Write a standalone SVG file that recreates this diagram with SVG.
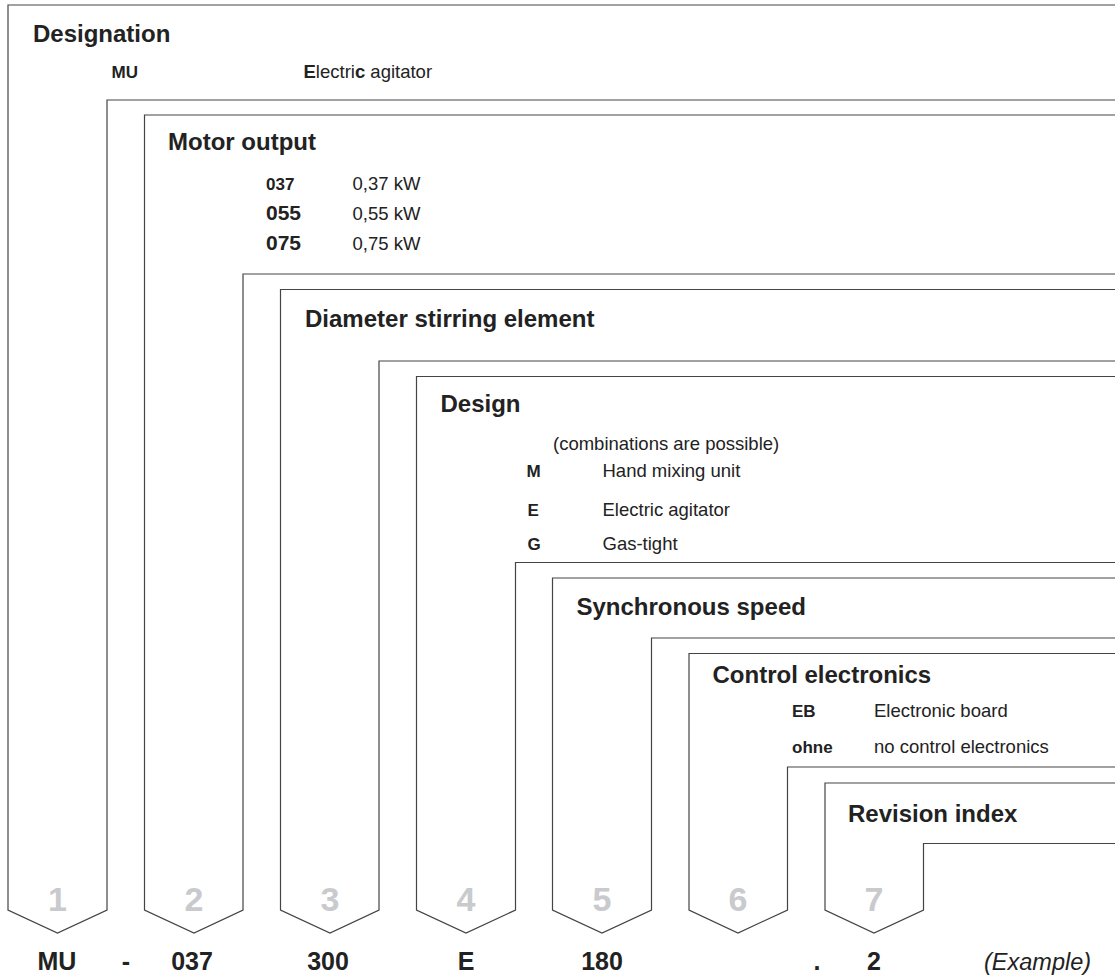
<svg xmlns="http://www.w3.org/2000/svg" width="1115" height="979" viewBox="0 0 1115 979">
<style>
.frame{fill:none;stroke:#444;stroke-width:1.2;stroke-linejoin:miter}
text{font-family:"Liberation Sans",Arial,sans-serif;fill:#222}
.title{font-size:24px;font-weight:bold}
.body{font-size:18.5px}
.code{font-size:17px;font-weight:bold}
.code2{font-size:21px;font-weight:bold}
.num{font-size:34px;font-weight:bold;fill:#c9cacd;text-anchor:middle}
.ex{font-size:25px;font-weight:bold;text-anchor:middle}
.b{font-weight:bold}
</style>
<rect width="1115" height="979" fill="#ffffff"/>
<g id="field1">
<path class="frame" d="M1116,5 H8 V910 L57.5,933 L107,910 V100 H1116"/>
<text class="title" x="33" y="42">Designation</text>
<text class="code" x="111.5" y="78">MU</text>
<text class="body" x="303.5" y="78"><tspan class="b">E</tspan>lectri<tspan class="b">c</tspan> agitator</text>
<text class="num" x="57.5" y="911">1</text>
</g>
<g id="field2">
<path class="frame" d="M1116,115 H144.5 V910 L194,933 L243,910 V274 H1116"/>
<text class="title" x="168" y="150">Motor output</text>
<text class="code" x="266" y="190">037</text>
<text class="body" x="352.5" y="190">0,37 kW</text>
<text class="code2" x="266" y="220">055</text>
<text class="body" x="352.5" y="220">0,55 kW</text>
<text class="code2" x="266" y="250">075</text>
<text class="body" x="352.5" y="250">0,75 kW</text>
<text class="num" x="194" y="911">2</text>
</g>
<g id="field3">
<path class="frame" d="M1116,289.5 H280.5 V910 L330,933 L379,910 V361 H1116"/>
<text class="title" x="305" y="327">Diameter stirring element</text>
<text class="num" x="330" y="911">3</text>
</g>
<g id="field4">
<path class="frame" d="M1116,376.5 H416.5 V910 L466,933 L515.5,910 V562.5 H1116"/>
<text class="title" x="440.5" y="411.5">Design</text>
<text class="body" x="553" y="450">(combinations are possible)</text>
<text class="code" x="526.5" y="476.5">M</text>
<text class="body" x="602.5" y="476.5">Hand mixing unit</text>
<text class="code" x="527.5" y="515.5">E</text>
<text class="body" x="602.5" y="515.5">Electric agitator</text>
<text class="code" x="527.5" y="550">G</text>
<text class="body" x="602.5" y="550">Gas-tight</text>
<text class="num" x="466" y="911">4</text>
</g>
<g id="field5">
<path class="frame" d="M1116,578 H552.5 V910 L602,933 L651.5,910 V638 H1116"/>
<text class="title" x="576.5" y="615">Synchronous speed</text>
<text class="num" x="602" y="911">5</text>
</g>
<g id="field6">
<path class="frame" d="M1116,653.5 H689 V910 L738,933 L787.5,910 V767 H1116"/>
<text class="title" x="712.5" y="683">Control electronics</text>
<text class="code" x="792" y="717">EB</text>
<text class="body" x="874" y="717">Electronic board</text>
<text class="code" x="792" y="753">ohne</text>
<text class="body" x="874" y="753">no control electronics</text>
<text class="num" x="738" y="911">6</text>
</g>
<g id="field7">
<path class="frame" d="M1116,783 H825 V910 L874,933 L923.5,910 V843.5 H1116"/>
<text class="title" x="848" y="821.5">Revision index</text>
<text class="num" x="874" y="911">7</text>
</g>
<g id="connectors"></g>
<g id="example">
<text class="ex" x="57" y="970">MU</text>
<text class="ex" x="126" y="970">-</text>
<text class="ex" x="192" y="970">037</text>
<text class="ex" x="328" y="970">300</text>
<text class="ex" x="466" y="970">E</text>
<text class="ex" x="602" y="970">180</text>
<text class="ex" x="817" y="970">.</text>
<text class="ex" x="874" y="970">2</text>
<text x="984" y="970" style="font-size:23.5px;font-style:italic">(Example)</text>
</g>
</svg>
